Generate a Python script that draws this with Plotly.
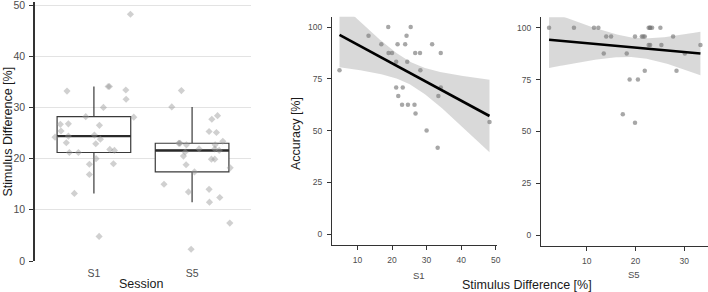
import numpy as np
import plotly.graph_objects as go

# ---------------- data ----------------
sessions = ["S1", "S5"]

# Session S1: stimulus difference [%], accuracy [%], horizontal jitter (category units)
stim_s1 = [4.8, 13.2, 16.9, 18.9, 19.0, 20.0, 21.2, 21.2, 21.6, 21.8, 22.9, 23.1, 23.8, 24.2,
           24.4, 24.6, 25.4, 26.5, 26.7, 26.8, 28.1, 28.2, 30.0, 31.6, 33.2, 33.4, 34.1, 34.1, 48.2]
acc_s1 = [79.2, 95.8, 91.7, 100, 87.5, 87.5, 83.3, 70.8, 91.7, 66.7, 62.5, 70.8, 91.7, 95.8,
          83.3, 62.5, 100, 62.5, 87.5, 58.3, 87.5, 79.2, 50.0, 91.7, 41.7, 66.7, 87.5, 70.8, 54.2]
jit_s1 = [0.053, -0.199, -0.046, -0.046, 0.199, 0.022, -0.250, -0.158, 0.209, 0.162, 0.019, -0.281,
          0.066, -0.396, -0.260, 0.005, -0.335, 0.056, -0.342, -0.260, 0.406, -0.083, 0.097, 0.328,
          -0.274, 0.325, 0.145, 0.158, 0.372]

# Session S5
stim_s5 = [2.3, 7.4, 11.5, 12.4, 13.5, 14.0, 15.0, 17.4, 18.2, 18.8, 19.9, 19.9, 20.5, 21.3, 21.6,
           21.9, 21.9, 22.7, 22.7, 23.0, 23.0, 23.0, 23.4, 25.1, 25.3, 27.7, 28.4, 30.1, 33.3]
acc_s5 = [100, 100, 100, 100, 87.5, 95.8, 95.8, 58.3, 87.5, 75.0, 95.8, 54.2, 75.0, 95.8, 95.8,
          79.2, 95.8, 100, 91.7, 100, 91.7, 100, 100, 100, 91.7, 95.8, 79.2, 87.5, 91.7]
jit_s5 = [-0.010, 0.384, 0.177, 0.282, -0.037, 0.173, -0.286, 0.024, 0.388, -0.061, 0.197, 0.231,
          -0.088, -0.070, 0.276, 0.071, 0.231, -0.058, 0.235, -0.122, -0.136, -0.130, 0.313, 0.248,
          0.173, 0.201, 0.259, -0.207, -0.109]

y_ticks_left = [0, 10, 20, 30, 40, 50]
y_ticks_acc = [0, 25, 50, 75, 100]
x_ticks_s1 = [10, 20, 30, 40, 50]
x_ticks_s5 = [10, 20, 30]
T_975 = 2.052  # t quantile, df = 27


def box_stats(vals):
    v = np.sort(np.asarray(vals, float))
    q1, med, q3 = np.percentile(v, [25, 50, 75])
    iqr = q3 - q1
    lo = v[v >= q1 - 1.5 * iqr].min()
    hi = v[v <= q3 + 1.5 * iqr].max()
    return q1, med, q3, lo, hi


def lm_fit(x, y, n_grid=80):
    x = np.asarray(x, float)
    y = np.asarray(y, float)
    n = len(x)
    b1, b0 = np.polyfit(x, y, 1)
    resid = y - (b0 + b1 * x)
    s = np.sqrt((resid ** 2).sum() / (n - 2))
    sxx = ((x - x.mean()) ** 2).sum()
    g = np.linspace(x.min(), x.max(), n_grid)
    fit = b0 + b1 * g
    se = s * np.sqrt(1.0 / n + (g - x.mean()) ** 2 / sxx)
    return g, fit, fit - T_975 * se, fit + T_975 * se


fig = go.Figure()

# ---------------- left: boxplot ----------------
for i, vals in enumerate([stim_s1, stim_s5]):
    q1, med, q3, lo, hi = box_stats(vals)
    fig.add_trace(go.Box(
        x=[i], q1=[q1], median=[med], q3=[q3], lowerfence=[lo], upperfence=[hi],
        width=0.75, whiskerwidth=0, fillcolor="white",
        line=dict(color="#3a3a3a", width=1.2), boxpoints=False,
        xaxis="x", yaxis="y", showlegend=False, hoverinfo="skip"))
    fig.add_trace(go.Scatter(
        x=[i - 0.375, i + 0.375], y=[med, med], mode="lines",
        line=dict(color="#2a2a2a", width=2.4), xaxis="x", yaxis="y",
        showlegend=False, hoverinfo="skip"))

for i, (vals, jit) in enumerate([(stim_s1, jit_s1), (stim_s5, jit_s5)]):
    fig.add_trace(go.Scatter(
        x=[i + j for j in jit], y=vals, mode="markers",
        marker=dict(symbol="diamond", size=5.5, color="rgba(150,150,150,0.45)", line=dict(width=0)),
        xaxis="x", yaxis="y", showlegend=False, hoverinfo="skip"))

# ---------------- middle/right: regressions ----------------
for xs, ys, xa, ya in [(stim_s1, acc_s1, "x2", "y2"), (stim_s5, acc_s5, "x3", "y3")]:
    g, fit, lo, hi = lm_fit(xs, ys)
    fig.add_trace(go.Scatter(
        x=np.concatenate([g, g[::-1]]), y=np.concatenate([hi, lo[::-1]]),
        fill="toself", fillcolor="rgba(165,165,165,0.42)", line=dict(width=0),
        mode="lines", xaxis=xa, yaxis=ya, showlegend=False, hoverinfo="skip"))
    fig.add_trace(go.Scatter(
        x=xs, y=ys, mode="markers",
        marker=dict(size=4.5, color="rgba(120,120,120,0.65)", line=dict(width=0)),
        xaxis=xa, yaxis=ya, showlegend=False, hoverinfo="skip"))
    fig.add_trace(go.Scatter(
        x=g, y=fit, mode="lines", line=dict(color="black", width=2.6),
        xaxis=xa, yaxis=ya, showlegend=False, hoverinfo="skip"))

W, H = 708, 292
FONT = "Liberation Sans, Arial, sans-serif"
tick_small = dict(family=FONT, size=8.5, color="#4d4d4d")
tick_big = dict(family=FONT, size=10.5, color="#4d4d4d")


def px_x(p):
    return p / W


def px_y(p):
    return 1 - p / H


common_scatter_axis = dict(showline=True, linecolor="#333333", linewidth=1.3, ticks="outside",
                           ticklen=4, tickwidth=1.1, tickcolor="#333333", showgrid=False,
                           zeroline=False, tickfont=tick_small, ticklabelstandoff=3,
                           ticklabeloverflow="allow")

fig.update_layout(
    autosize=True, margin=dict(l=0, r=0, t=0, b=0, autoexpand=False),
    paper_bgcolor="white", plot_bgcolor="white",
    font=dict(family=FONT),
    xaxis=dict(domain=[px_x(35), px_x(251)], range=[-0.6, 1.6], tickvals=[0, 1], ticktext=sessions,
               showline=False, showgrid=False, zeroline=False, ticks="", tickfont=tick_big,
               ticklabelstandoff=4, ticklabeloverflow="allow"),
    yaxis=dict(domain=[px_y(261), px_y(2)], range=[0, 50.6], tickvals=y_ticks_left,
               showline=True, linecolor="#333333", linewidth=1.5, ticks="outside", ticklen=4,
               tickcolor="#333333", tickwidth=1.1, showgrid=True, gridcolor="#e3e3e3", gridwidth=1,
               zeroline=False, tickfont=tick_big, ticklabelstandoff=2, ticklabeloverflow="allow"),
    xaxis2=dict(domain=[px_x(332), px_x(497)], range=[2.63, 50.37], tickvals=x_ticks_s1,
                anchor="y2", **common_scatter_axis),
    yaxis2=dict(domain=[px_y(244.5), px_y(16.7)], range=[-5, 105], tickvals=y_ticks_acc,
                anchor="x2", **common_scatter_axis),
    xaxis3=dict(domain=[px_x(541), 1.0], range=[0.65, 34.85], tickvals=x_ticks_s5,
                anchor="y3", **common_scatter_axis),
    yaxis3=dict(domain=[px_y(245.5), px_y(17.3)], range=[-5, 105], tickvals=y_ticks_acc,
                anchor="x3", **common_scatter_axis),
)

title_font = dict(family=FONT, size=12.5, color="#1a1a1a")
sub_font = dict(family=FONT, size=9.5, color="#4d4d4d")
annots = [
    dict(text="Stimulus Difference [%]", x=px_x(7), y=px_y(131.5), textangle=-90, font=title_font),
    dict(text="Session", x=px_x(141.5), y=px_y(284), font=title_font),
    dict(text="Accuracy [%]", x=px_x(296), y=px_y(134), textangle=-90, font=title_font),
    dict(text="S1", x=px_x(419), y=px_y(275), font=sub_font),
    dict(text="S5", x=px_x(634), y=px_y(274), font=sub_font),
    dict(text="Stimulus Difference [%]", x=px_x(527), y=px_y(285), font=title_font),
]
for a in annots:
    fig.add_annotation(xref="paper", yref="paper", showarrow=False, xanchor="center",
                       yanchor="middle", **a)

post = (
    "document.documentElement.style.margin='0';document.documentElement.style.overflow='hidden';"
    "document.body.style.margin='0';document.body.style.overflow='hidden';"
    "var gd=document.getElementById('{plot_id}');"
    "gd.style.width=window.innerWidth+'px';gd.style.height=window.innerHeight+'px';"
    "Plotly.Plots.resize(gd);"
)

fig.write_html("out.html", default_width="100vw", default_height="100vh",
               config={"displayModeBar": False, "responsive": True},
               post_script=post)
